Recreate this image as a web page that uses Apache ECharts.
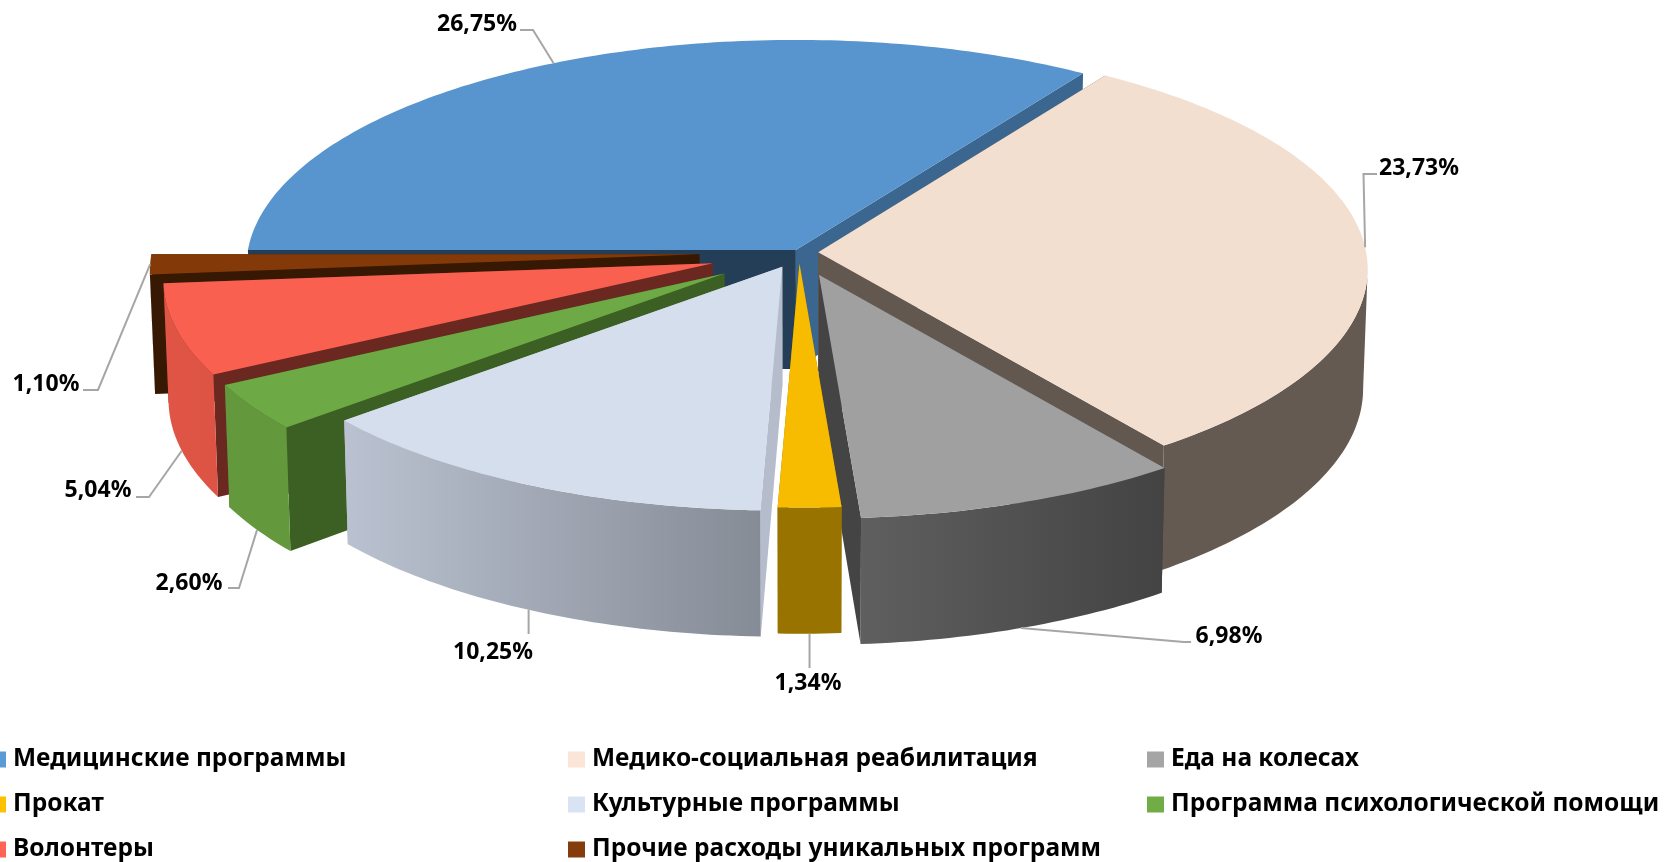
<!DOCTYPE html>
<html>
<head>
<meta charset="utf-8">
<style>
html, body { margin: 0; padding: 0; background: #fff; }
#chart { width: 1665px; height: 862px; }
</style>
<script src="https://cdn.jsdelivr.net/npm/echarts@6/dist/echarts.min.js"></script>
</head>
<body>
<div id="chart"></div>
<script>
const categories = ['Медицинские программы', 'Медико-социальная реабилитация', 'Еда на колесах', 'Прокат',
  'Культурные программы', 'Программа психологической помощи', 'Волонтеры', 'Прочие расходы уникальных программ']
const values = [26.75, 23.73, 6.98, 1.34, 10.25, 2.60, 5.04, 1.10]

const legendColors = ['#5B9BD5', '#FBE5D6', '#A5A5A5', '#FFC000', '#DAE3F3', '#70AD47', '#FF6554', '#843C0C']
const topColors = ['#5895CE', '#F3DFD0', '#A0A0A0', '#F7BC00', '#D5DEEC', '#6DA944', '#FA6050', '#833A08']
const wallColors = [['#243E57', '#243E57'], ['#655A52', '#655A52'], ['#5F5F5F', '#434343'], ['#997300', '#997300'],
  ['#BAC1D0', '#868C96'], ['#63983C', '#63983C'], ['#E05545', '#DD5444'], ['#361803', '#361803']]
const startFaceColors = ['#243E57', '#625850', '#444444', '#997300', '#B5BCCC', '#3C5F24', '#6B2820', '#361803']
const endFaceColors = ['#3A668F', '#625850', '#444444', '#997300', '#B5BCCC', '#3C5F24', '#6B2820', '#361803']

// how far each slice is pulled out, part of the radius
const explode = [0.012, 0.035, 0.105, 0.05, 0.07, 0.165, 0.164, 0.182]
// back to front
const drawOrder = [0, 1, 7, 6, 5, 4, 2, 3]

// projection of the tilted pie
const cx = 799, cy = 252.5, R = 548, tilt = 0.412, persp = 0.074
const depth = 119, firstAngle = 270

// leader line: elbow, end by the label, and whether it starts on the top or the bottom rim
// an end with no x runs straight down from its start
const leaderElbow = [[533, 30], [1363.5, 174], [1184, 642], null, null, [239, 588], [149, 497], [98, 390]]
const leaderEnd = [[520, 30], [1377, 174], [1191, 642], [null, 668], [null, 634], [228, 588], [136, 497], [83, 390]]
const labelPos = [[477, 24], [1419, 168], [1229, 636], [808, 683], [493, 652], [189, 583], [98, 490], [46, 384]]
const labelOnTop = [true, true, false, false, false, false, false, true]

const legendCols = [-11, 568, 1147]
const legendRows = [747, 792, 837]

const total = values.reduce((a, b) => a + b, 0)
const angles = []
let acc = firstAngle
values.forEach(v => {
  const a = v / total * 360
  angles.push([acc, acc + a])
  acc += a
})

// where the rim is widest on screen, the wall starts and stops there
const sideAngle = Math.acos(-persp) * 180 / Math.PI

function tipOf(i) {
  const mid = (angles[i][0] + angles[i][1]) / 2 * Math.PI / 180
  return [cx + explode[i] * R * Math.sin(mid), cy - explode[i] * R * tilt * Math.cos(mid)]
}

// top rim point of slice i at angle deg (clockwise from the back)
function rim(i, deg) {
  const t = tipOf(i)
  const a = deg * Math.PI / 180
  const X = Math.sin(a), Y = -Math.cos(a)
  const s = 1 / (1 - persp * Y)
  return { x: t[0] + R * X * s, y: t[1] + R * tilt * Y * s, Y: Y }
}

function lower(p, Y) {
  return [cx + (p[0] - cx) * 0.992, p[1] + depth * (1 + 0.06 * Y)]
}

function arcPoints(i, from, to) {
  const n = Math.max(2, Math.ceil(Math.abs(to - from)))
  const pts = []
  for (let k = 0; k <= n; k++) {
    pts.push(rim(i, from + (to - from) * k / n))
  }
  return pts
}

function facePoly(i, p, color) {
  const t = tipOf(i)
  return {
    type: 'polygon',
    shape: { points: [t, [p.x, p.y], lower([p.x, p.y], p.Y), lower(t, 0)] },
    style: { fill: color }
  }
}

function renderSlice(i) {
  const from = angles[i][0], to = angles[i][1]
  const children = []
  children.push(facePoly(i, rim(i, from), startFaceColors[i]))
  children.push(facePoly(i, rim(i, to), endFaceColors[i]))

  // outer wall, only the part that faces the viewer (angles run on from firstAngle, so past 360)
  const a = Math.max(from, 360 + sideAngle), b = Math.min(to, 720 - sideAngle)
  if (b > a) {
    const arc = arcPoints(i, a, b)
    const pts = arc.map(p => [p.x, p.y])
    arc.slice().reverse().forEach(p => pts.push(lower([p.x, p.y], p.Y)))
    children.push({
      type: 'polygon',
      shape: { points: pts },
      style: {
        fill: new echarts.graphic.LinearGradient(0, 0, 1, 0, [
          { offset: 0, color: wallColors[i][0] },
          { offset: 1, color: wallColors[i][1] }
        ])
      }
    })
  }

  const top = [tipOf(i)]
  arcPoints(i, from, to).forEach(p => top.push([p.x, p.y]))
  children.push({ type: 'polygon', shape: { points: top }, style: { fill: topColors[i] } })
  return { type: 'group', children: children }
}

function renderLabel(params) {
  const i = params.dataIndex
  const mid = rim(i, (angles[i][0] + angles[i][1]) / 2)
  const start = labelOnTop[i] ? [mid.x, mid.y] : lower([mid.x, mid.y], mid.Y)
  const pts = [start]
  if (leaderElbow[i]) pts.push(leaderElbow[i])
  pts.push([leaderEnd[i][0] === null ? start[0] : leaderEnd[i][0], leaderEnd[i][1]])
  return {
    type: 'group',
    children: [{
      type: 'polyline',
      shape: { points: pts },
      style: { stroke: '#A6A6A6', lineWidth: 2, fill: null }
    }, {
      type: 'text',
      style: {
        x: labelPos[i][0],
        y: labelPos[i][1],
        text: values[i].toFixed(2).replace('.', ',') + '%',
        fill: '#000',
        fontFamily: 'Noto Sans',
        fontWeight: 'bold',
        fontSize: 23,
        align: 'center',
        verticalAlign: 'middle'
      }
    }]
  }
}

const series = drawOrder.map(i => ({
  type: 'custom',
  name: categories[i],
  coordinateSystem: 'none',
  silent: true,
  itemStyle: { color: legendColors[i] },
  data: [values[i]],
  renderItem: () => renderSlice(i)
}))
series.push({
  type: 'custom',
  name: 'labels',
  coordinateSystem: 'none',
  silent: true,
  z: 5,
  data: values,
  renderItem: renderLabel
})

const legends = categories.map((name, i) => ({
  data: [name],
  left: legendCols[i % 3],
  top: legendRows[Math.floor(i / 3)],
  padding: 0,
  itemWidth: 17,
  itemHeight: 16,
  itemGap: 0,
  icon: 'rect',
  selectedMode: false,
  textStyle: {
    color: '#000',
    fontFamily: 'Noto Sans',
    fontWeight: 'bold',
    fontSize: 24.5,
    padding: [0, 0, 0, 2]
  }
}))

const chart = echarts.init(document.getElementById('chart'))
chart.setOption({
  animation: false,
  legend: legends,
  series: series
})
window.addEventListener('resize', () => chart.resize())
</script>
</body>
</html>
